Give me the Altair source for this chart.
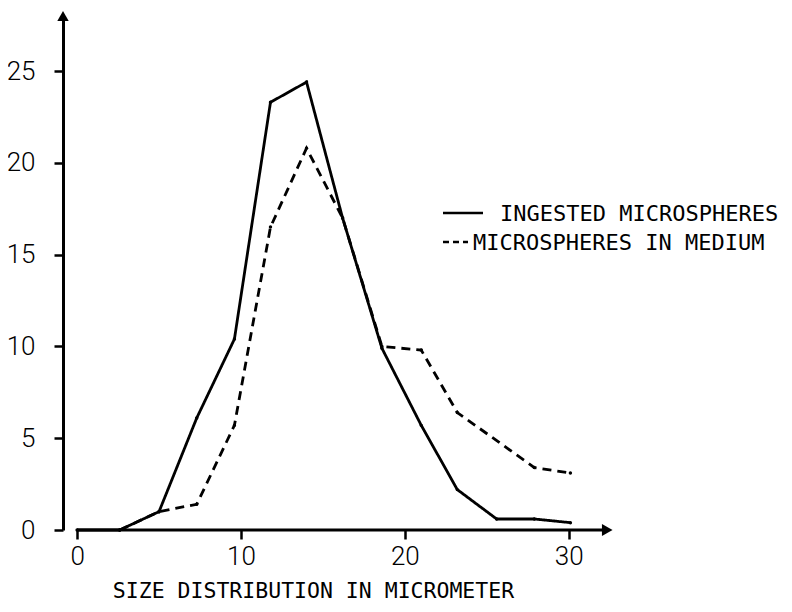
import altair as alt
import pandas as pd

# ---- data ----
size_x = [0, 2.6, 5.0, 7.3, 9.6, 11.8, 14.0, 16.2, 18.6, 21.0, 23.2, 25.6, 27.9, 30.1]
ingested = [0, 0, 1.0, 6.1, 10.4, 23.3, 24.4, 17.0, 9.9, 5.7, 2.2, 0.6, 0.6, 0.4]
medium_x = [2.6, 5.0, 7.3, 9.6, 11.8, 14.0, 16.2, 18.6, 21.0, 23.2, 27.9, 30.1]
medium = [0, 1.0, 1.4, 5.7, 16.5, 20.8, 17.0, 10.0, 9.8, 6.4, 3.4, 3.1]
series_names = ["INGESTED MICROSPHERES", "MICROSPHERES IN MEDIUM"]
x_ticks = [0, 10, 20, 30]
y_ticks = [0, 5, 10, 15, 20, 25]
x_title = "SIZE DISTRIBUTION IN MICROMETER"

X_MIN, X_MAX = -0.86, 32.7
Y_MIN, Y_MAX = 0, 28
X_ARROW = 32.35

rows = [{"x": a, "y": b, "s": series_names[0]} for a, b in zip(size_x, ingested)]
rows += [{"x": a, "y": b, "s": series_names[1]} for a, b in zip(medium_x, medium)]
df = pd.DataFrame(rows)

xs = alt.Scale(domain=[X_MIN, X_MAX], nice=False, zero=False)
ys = alt.Scale(domain=[Y_MIN, Y_MAX], nice=False, zero=False)

MONO = "DejaVu Sans Mono"
NUMF = "Roboto"

lines = alt.Chart(df).mark_line(color="black", strokeWidth=2.8).encode(
    x=alt.X("x:Q", scale=xs, axis=alt.Axis(
        values=x_ticks, domain=False, grid=False, tickSize=9, tickWidth=2.5,
        tickColor="black", labelFont=NUMF, labelFontSize=26, labelColor="black",
        labelFontWeight=300, labelPadding=4, title=x_title, titleFont=MONO,
        titleFontSize=21.5, titleFontWeight="normal", titleColor="black",
        titleX=250, titleY=61, titleAlign="center", titleBaseline="middle",
        format="d")),
    y=alt.Y("y:Q", scale=ys, axis=alt.Axis(
        values=y_ticks, domain=True, domainColor="black", domainWidth=3,
        grid=False, tickSize=9, tickWidth=2.5, tickColor="black",
        labelFont=NUMF, labelFontSize=26, labelFontWeight=300, labelColor="black",
        labelPadding=19, title=None, format="d")),
    strokeDash=alt.StrokeDash("s:N", scale=alt.Scale(
        domain=series_names, range=[[1, 0], [9, 6]]), legend=None),
    detail="s:N",
)

dots = alt.Chart(df).mark_circle(color="black", size=12, opacity=1).encode(
    x=alt.X("x:Q", scale=xs), y=alt.Y("y:Q", scale=ys))

# x axis line starting at x=0 with arrow
axis_df = pd.DataFrame({"x0": [0], "x1": [X_ARROW], "y": [0]})
xline = alt.Chart(axis_df).mark_rule(color="black", strokeWidth=3).encode(
    x=alt.X("x0:Q", scale=xs), x2="x1:Q", y=alt.Y("y:Q", scale=ys))
xarrow = alt.Chart(pd.DataFrame({"x": [X_ARROW], "y": [0]})).mark_point(
    shape="triangle-right", filled=True, color="black", size=150, opacity=1).encode(
    x=alt.X("x:Q", scale=xs), y=alt.Y("y:Q", scale=ys))
yarrow = alt.Chart(pd.DataFrame({"x": [X_MIN], "y": [Y_MAX]})).mark_point(
    shape="triangle-up", filled=True, color="black", size=130, opacity=1).encode(
    x=alt.X("x:Q", scale=xs), y=alt.Y("y:Q", scale=ys))

# manual legend
leg1_line = alt.Chart(pd.DataFrame({"a": [0]})).mark_rule(
    color="black", strokeWidth=2.6).encode(
    x=alt.value(380), x2=alt.value(420), y=alt.value(197))
leg2_line = alt.Chart(pd.DataFrame({"a": [0]})).mark_rule(
    color="black", strokeWidth=2.6, strokeDash=[6, 4]).encode(
    x=alt.value(380), x2=alt.value(405), y=alt.value(226))
leg1_text = alt.Chart(pd.DataFrame({"t": [series_names[0]]})).mark_text(
    font=MONO, fontSize=22, align="left", baseline="middle", color="black").encode(
    x=alt.value(437), y=alt.value(198), text="t:N")
leg2_text = alt.Chart(pd.DataFrame({"t": [series_names[1]]})).mark_text(
    font=MONO, fontSize=22, align="left", baseline="middle", color="black").encode(
    x=alt.value(410), y=alt.value(227), text="t:N")

chart = alt.layer(
    lines, dots, xline, xarrow, yarrow, leg1_line, leg2_line, leg1_text, leg2_text
).properties(
    width=550, height=514,
    autosize=alt.AutoSizeParams(type="none"),
    padding={"left": 55, "top": 8, "right": 171, "bottom": 74},
    background="white",
).configure_view(stroke=None)

chart.save("out.html", embed_options={"renderer": "svg", "actions": False})
